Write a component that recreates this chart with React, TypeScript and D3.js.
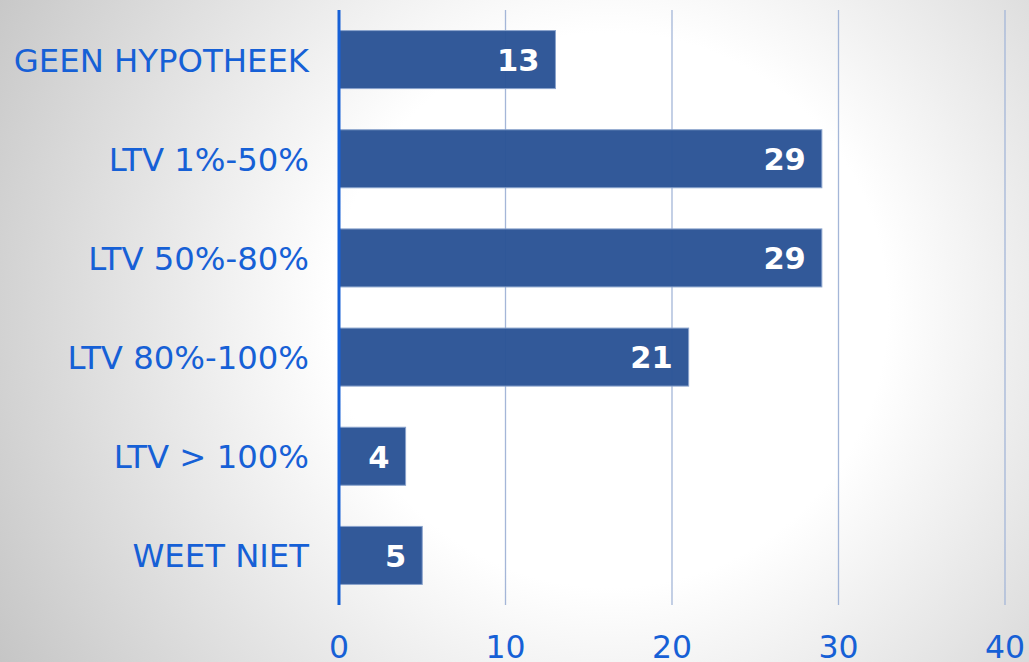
import React from "react";
import * as d3 from "d3";

const categories = ["GEEN HYPOTHEEK", "LTV 1%-50%", "LTV 50%-80%", "LTV 80%-100%", "LTV > 100%", "WEET NIET"];
const values = [13, 29, 29, 21, 4, 5];
const ticks = [0, 10, 20, 30, 40];

const W = 1029;
const H = 662;

export default function App() {
  const x = d3.scaleLinear().domain([0, 40]).range([339, 1005]);
  const y = d3.scaleBand<string>().domain(categories).range([10, 605]).paddingInner(0.415).paddingOuter(0.2075);
  const font = "'DejaVu Sans', Verdana, sans-serif";
  return (
    <svg width={W} height={H} style={{ position: "absolute", left: 0, top: 0 }} xmlns="http://www.w3.org/2000/svg">
      <defs>
        <radialGradient id="bg" cx="610" cy="310" r="730" gradientUnits="userSpaceOnUse">
          <stop offset="0" stopColor="#ffffff" />
          <stop offset="0.38" stopColor="#ffffff" />
          <stop offset="1" stopColor="#c2c2c2" />
        </radialGradient>
      </defs>
      <rect x={0} y={0} width={W} height={H} fill="url(#bg)" />
      {ticks.filter((t) => t !== 0).map((t) => (
        <line key={t} x1={x(t)} x2={x(t)} y1={10} y2={605} stroke="#a4b6d8" strokeWidth={1.3} />
      ))}
      {categories.map((c, i) => (
        <g key={c}>
          <rect
            x={x(0)}
            y={y(c)!}
            width={x(values[i]) - x(0)}
            height={y.bandwidth()}
            fill="#2b5496"
            fillOpacity={0.97}
            stroke="#8aa3cc"
            strokeWidth={1}
          />
          <text
            x={x(values[i]) - 16}
            y={y(c)! + y.bandwidth() / 2}
            dy="0.37em"
            textAnchor="end"
            fill="#ffffff"
            fontFamily={font}
            fontWeight="bold"
            fontSize={30.5}
          >
            {values[i]}
          </text>
          <text
            x={309}
            y={y(c)! + y.bandwidth() / 2}
            dy="0.37em"
            textAnchor="end"
            fill="#1660d6"
            fontFamily={font}
            fontSize={32.3}
          >
            {c}
          </text>
        </g>
      ))}
      <line x1={x(0)} x2={x(0)} y1={10} y2={605} stroke="#1660d6" strokeWidth={3} />
      {ticks.map((t) => (
        <text key={t} x={x(t)} y={658} textAnchor="middle" fill="#1660d6" fontFamily={font} fontSize={31.5}>
          {t}
        </text>
      ))}
    </svg>
  );
}
